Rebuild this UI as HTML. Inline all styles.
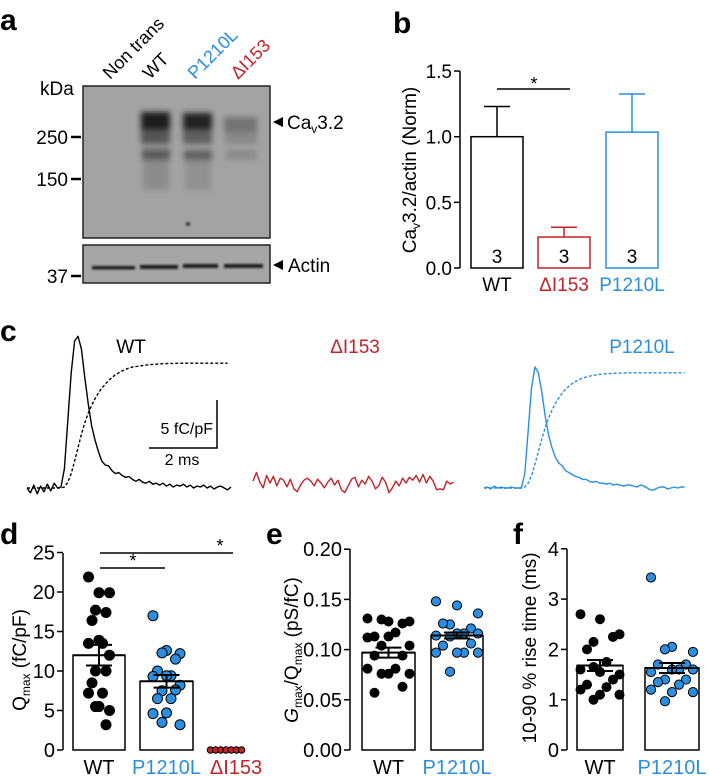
<!DOCTYPE html>
<html><head><meta charset="utf-8"><style>
html,body{margin:0;padding:0;background:#fff}
svg{display:block;font-family:"Liberation Sans",Arial,sans-serif}
</style></head><body>
<svg id="fig" width="709" height="776" viewBox="0 0 709 776">
<defs>
<filter id="b3" x="-50%" y="-50%" width="200%" height="200%"><feGaussianBlur stdDeviation="3"/></filter>
<filter id="b1" x="-50%" y="-50%" width="200%" height="200%"><feGaussianBlur stdDeviation="1"/></filter>
</defs>

<g>
<text x="0" y="30" font-size="30" font-weight="bold">a</text>
<g font-size="18">
<text transform="translate(110,80) rotate(-45)">Non trans</text>
<text transform="translate(150,80) rotate(-45)">WT</text>
<text transform="translate(195,80) rotate(-45)" fill="#2b8ee0">P1210L</text>
<text transform="translate(238,80) rotate(-45)" fill="#c0232a">ΔI153</text>
</g>
<text x="40" y="95" font-size="19">kDa</text>
<g>
<rect x="83" y="86" width="187" height="152" fill="#a3a3a3" stroke="#222" stroke-width="1.5"/>
<g filter="url(#b3)">
<rect x="141" y="112" width="29" height="20" fill="#1a1a1a"/>
<rect x="141" y="130" width="29" height="14" fill="#555"/>
<rect x="142" y="149" width="28" height="11" fill="#5a5a5a"/>
<rect x="143" y="160" width="26" height="30" fill="#8c8c8c"/>
<rect x="183" y="113" width="29" height="19" fill="#222"/>
<rect x="183" y="130" width="29" height="14" fill="#5e5e5e"/>
<rect x="184" y="150" width="28" height="10" fill="#616161"/>
<rect x="185" y="160" width="26" height="30" fill="#909090"/>
<rect x="224" y="117" width="33" height="15" fill="#737373"/>
<rect x="225" y="132" width="32" height="12" fill="#888"/>
<rect x="226" y="150" width="31" height="10" fill="#8a8a8a"/>
</g>
<circle cx="188" cy="224" r="2" fill="#333" filter="url(#b1)"/>
</g>
<g>
<rect x="83" y="245" width="187" height="38" fill="#a6a6a6" stroke="#222" stroke-width="1.5"/>
<g filter="url(#b1)" fill="#1c1c1c">
<rect x="92" y="266" width="43" height="3.5"/>
<rect x="140" y="265" width="38" height="4"/>
<rect x="183" y="264" width="35" height="4"/>
<rect x="224" y="264" width="39" height="4"/>
</g>
</g>
<g stroke="#000" stroke-width="2.5">
<line x1="71" y1="137" x2="81" y2="137"/><line x1="71" y1="179" x2="81" y2="179"/><line x1="71" y1="276" x2="81" y2="276"/>
</g>
<g font-size="19" text-anchor="end">
<text x="68" y="144">250</text>
<text x="68" y="186">150</text>
<text x="68" y="283">37</text>
</g>
<polygon points="273,122 283,117 283,127" fill="#000"/>
<text x="287" y="129" font-size="19">Ca<tspan font-size="12" dy="4">v</tspan><tspan dy="-4">3.2</tspan></text>
<polygon points="273,265 283,260 283,270" fill="#000"/>
<text x="288" y="272" font-size="19">Actin</text>
</g>

<g id="pb">
<text x="393" y="33" font-size="30" font-weight="bold">b</text>
<text transform="translate(416,170) rotate(-90)" text-anchor="middle" font-size="19">Ca<tspan font-size="12" dy="4">v</tspan><tspan dy="-4">3.2/actin (Norm)</tspan></text>
</g>

<g id="pc">
<text x="0" y="341" font-size="30" font-weight="bold">c</text>
<text x="131" y="353" font-size="19" text-anchor="middle">WT</text>
<text x="355" y="353" font-size="19" text-anchor="middle" fill="#c0232a">ΔI153</text>
<text x="642" y="353" font-size="19" text-anchor="middle" fill="#2b8ee0">P1210L</text>
<g>
<polyline points="149,448 217,448 217,400" fill="none" stroke="#000" stroke-width="1.5"/>
<text x="213" y="434" font-size="16" text-anchor="end">5 fC/pF</text>
<text x="182" y="465" font-size="16" text-anchor="middle">2 ms</text>
</g>
</g>

<g id="pd">
<text x="0" y="544" font-size="30" font-weight="bold">d</text>
<text transform="translate(26,660) rotate(-90)" text-anchor="middle" font-size="19">Q<tspan font-size="12" dy="4">max</tspan><tspan dy="-4"> (fC/pF)</tspan></text>
</g>
<g id="pe">
<text x="266" y="544" font-size="30" font-weight="bold">e</text>
<text transform="translate(298,650) rotate(-90)" text-anchor="middle" font-size="19"><tspan font-style="italic">G</tspan><tspan font-size="12" dy="4">max</tspan><tspan dy="-4">/Q</tspan><tspan font-size="12" dy="4">max</tspan><tspan dy="-4"> (pS/fC)</tspan></text>
</g>
<g id="pf">
<text x="513" y="544" font-size="30" font-weight="bold">f</text>
<text transform="translate(536,648) rotate(-90)" text-anchor="middle" font-size="19">10-90 % rise time (ms)</text>
</g>
</svg>
<script>
const bCats = ["WT","ΔI153","P1210L"];
const bMeans = [1.0, 0.236, 1.035];
const bErr = [1.23, 0.31, 1.325];
const bN = ["3","3","3"];
const bTicks = ["0.0","0.5","1.0","1.5"];
const bTickVals = [0,0.5,1.0,1.5];
const wtCurrent = [0,-0.5,0.3,-0.6,0.2,-0.4,0.4,-0.3,0.5,0,0.1,2,7,12,15.3,15.8,14.5,11.5,8.8,6.5,5.0,3.8,2.8,2.4,2.3,1.8,1.5,1.6,1.3,1.1,1.2,0.9,0.7,0.9,0.6,0.5,0.7,0.4,0.5,0.3,0.5,0.2,0.4,0.1,0.3,0.2,0.4,0.1,0.3,0,0.2,0.1,0.3,0,0.2,-0.1,0.1,0.2,0,-0.2,0.1];
const wtCharge = [0,0,0,0,0,0,0,0,0,0,0,0.1,0.6,1.5,2.8,4.2,5.6,6.8,7.8,8.6,9.3,9.9,10.4,10.8,11.2,11.5,11.8,12.0,12.2,12.35,12.5,12.6,12.65,12.7,12.75,12.8,12.85,12.88,12.9,12.92,12.95,12.96,12.97,12.98,12.99,13,13,13,13,13,13,13,13,13,13,13,13,13,13,13];
const diCurrent = [0.3,1.2,0.2,-0.4,0.9,0.1,0.8,-0.2,0.6,0.4,-0.3,0.5,-0.5,-0.8,-0.1,0.4,0.6,0.3,-0.2,0.5,0.1,-0.4,0.2,0.6,-0.1,0.4,-0.6,-0.9,-0.2,0.5,0.7,-0.3,0.4,0,0.8,0.3,-0.5,-0.2,0.7,0.2,-0.9,-0.4,0.3,-0.2,0.6,0.1,0.7,0.4,0.9,0.2,1.0,0.1,0.8,0.3,-0.6,-0.5,-0.6,0.3,0,0.2];
const pCurrent = [0,0.1,-0.1,0.2,0,0.1,0,0,0.1,0,0,0,1.5,6,10.5,12.6,12.0,10,7.5,5.5,4.2,3.2,2.6,2.3,1.8,1.6,1.4,1.2,1.1,0.9,0.9,0.7,0.6,0.7,0.5,0.5,0.4,0.5,0.3,0.4,0.3,0.2,0.3,0.3,0.2,0.1,0.3,0.2,0,-0.2,-0.2,0,0.1,0.1,-0.1,0,0.1,0,0.1,0.1];
const pCharge = [0,0,0,0,0,0,0,0,0,0,0,0,0.1,0.5,1.3,2.5,3.8,5.1,6.3,7.3,8.1,8.8,9.4,9.9,10.3,10.6,10.9,11.1,11.3,11.45,11.55,11.65,11.72,11.78,11.83,11.87,11.9,11.92,11.94,11.96,11.97,11.98,11.99,12,12,12,12,12,12,12,12,12,12,12,12,12,12,12,12,12];
const dCats = ["WT","P1210L","ΔI153"];
const dMeans = [12.0, 8.7, 0];
const dSem = [1.3, 0.8, 0];
const dWT = [21.9,19.9,19.9,17.7,17.4,16.4,13.5,13.5,13.9,12.0,10.0,10.0,8.5,7.2,7.2,5.5,5.0,5.5,3.2];
const dP = [17.0,12.6,12.2,12.3,11.5,10.0,9.4,9.3,9.4,8.2,7.5,7.6,6.5,6.5,4.6,4.7,3.2,3.5];
const dDI = [0,0,0,0,0,0,0];
const dTicks = ["0","5","10","15","20","25"];
const dTickVals = [0,5,10,15,20,25];
const eMeans = [0.097, 0.114];
const eSem = [0.005, 0.003];
const eWT = [0.131,0.128,0.128,0.130,0.126,0.113,0.117,0.112,0.113,0.104,0.104,0.094,0.094,0.081,0.081,0.076,0.076,0.076,0.063,0.057];
const eP = [0.148,0.144,0.136,0.125,0.121,0.126,0.116,0.114,0.116,0.116,0.113,0.106,0.104,0.097,0.097,0.097,0.097,0.078];
const eTicks = ["0.00","0.05","0.10","0.15","0.20"];
const eTickVals = [0,0.05,0.10,0.15,0.20];
const fMeans = [1.68, 1.63];
const fSem = [0.11, 0.1];
const fWT = [2.7,2.6,2.3,2.15,2.25,2.0,1.75,1.6,1.55,1.5,1.65,1.4,1.3,1.25,1.2,1.1,1.1,1.0];
const fP = [3.43,2.05,1.95,2.0,1.7,1.7,1.6,1.55,1.6,1.6,1.4,1.4,1.35,1.3,1.2,1.15,1.15,0.97];
const fTicks = ["0","1","2","3","4"];
const fTickVals = [0,1,2,3,4];
const xCats2 = ["WT","P1210L"];

const NS="http://www.w3.org/2000/svg";
function mk(parent, tag, attrs, txt){const e=document.createElementNS(NS,tag);for(const k in attrs)e.setAttribute(k,attrs[k]);if(txt!==undefined)e.textContent=txt;parent.appendChild(e);return e;}
const BLUE="#2b8ee0", RED="#c0232a";

function yAxis(g, x, scale, vals, labels, top, fs){
  const ax=mk(g,'line',{x1:x,y1:top,x2:x,y2:scale(0),stroke:'#000','stroke-width':1.5});
  
  
  vals.forEach((v,i)=>{
    const y=scale(v);
    const t=mk(g,'line',{x1:x-6,y1:y,x2:x,y2:y,stroke:'#000','stroke-width':1.5});
    
    
    const l=mk(g,'text',{x:x-8,y:y+7,'font-size':fs,'text-anchor':'end'},labels[i]);
    
    
  });
}

(function(){
  const g=document.getElementById('pb');
  const y=v=>268-v*131.3;
  yAxis(g,460,y,bTickVals,bTicks,71,19);
  const xs=[471,538,606], w=52, cols=['#000',RED,BLUE];
  bCats.forEach((c,i)=>{
    const cx=xs[i]+w/2;
    const r=mk(g,'rect',{x:xs[i],y:y(bMeans[i]),width:w,height:y(0)-y(bMeans[i]),fill:'#fff',stroke:cols[i],'stroke-width':1.5});
    
    
    const e=mk(g,'path',{d:`M${cx},${y(bMeans[i])}V${y(bErr[i])}M${cx-13},${y(bErr[i])}H${cx+13}`,stroke:cols[i],'stroke-width':1.5,fill:'none'});
    
    
    const n=mk(g,'text',{x:cx,y:263,'font-size':19,'text-anchor':'middle'},bN[i]);
    
    
    const l=mk(g,'text',{x:cx,y:291,'font-size':19,'text-anchor':'middle',fill:cols[i]},c);
    
    
  });
  const s=mk(g,'line',{x1:497,y1:89,x2:570,y2:89,stroke:'#000','stroke-width':1.5});
  
  
  const st=mk(g,'text',{x:534,y:90,'font-size':18,'text-anchor':'middle'},'*');
  
  
})();

(function(){
  const g=document.getElementById('pc');
  const pxMs=34, pxU=9.6;
  function trace(arr,x0,y0,col,dash,name){
    const pts=arr.map((v,i)=>(x0+i*0.1*pxMs).toFixed(1)+','+(y0-v*pxU).toFixed(1)).join(' ');
    const p=mk(g,'polyline',{points:pts,fill:'none',stroke:col,'stroke-width':1.4,'stroke-dasharray':dash?'3,2':'none','stroke-linejoin':'round'});
    
    
  }
  trace(wtCurrent,27,488,'#000',false,'wt-current-trace');
  trace(wtCharge,27,488,'#000',true,'wt-charge-trace');
  trace(diCurrent,253,484,RED,false,'di153-current-trace');
  trace(pCurrent,484,488,BLUE,false,'p1210l-current-trace');
  trace(pCharge,484,488,BLUE,true,'p1210l-charge-trace');
})();

function dotPanel(id, axX, y, tickVals, ticks, bars, top){
  const g=document.getElementById(id);
  yAxis(g,axX,y,tickVals,ticks,top,20);
  bars.forEach(b=>{
    const cx=b.x+b.w/2;
    if(b.w>0){
      const r=mk(g,'rect',{x:b.x,y:y(b.mean),width:b.w,height:y(0)-y(b.mean),fill:'#fff',stroke:'#000','stroke-width':1.5});
      
      
    }
    b.pts.forEach((v,i)=>{
      const off=b.spread?(((i*3)%7)-3)*b.spread:(i-(b.pts.length-1)/2)*5.2;
      const c=mk(g,'circle',{cx:cx+off,cy:y(v),r:b.r,fill:b.col,stroke:'#000','stroke-width':b.col==='#000'?0:1});
      
      
    });
    if(b.sem>0){
      const e=mk(g,'path',{d:`M${cx},${y(b.mean-b.sem)}V${y(b.mean+b.sem)}M${cx-13},${y(b.mean-b.sem)}H${cx+13}M${cx-13},${y(b.mean+b.sem)}H${cx+13}M${b.x},${y(b.mean)}H${b.x+b.w}`,stroke:'#000','stroke-width':2,fill:'none'});
      
      
    }
    const l=mk(g,'text',{x:b.lx||cx,y:774,'font-size':20,'text-anchor':'middle',fill:b.lc},b.name);
    
    
  });
  return g;
}
const gd=dotPanel('pd',63,v=>750-v*7.9,dTickVals,dTicks,[
  {name:dCats[0],x:73,w:52,mean:dMeans[0],sem:dSem[0],pts:dWT,col:'#000',r:5.5,spread:3.5,lc:'#000'},
  {name:dCats[1],x:140,w:53,mean:dMeans[1],sem:dSem[1],pts:dP,col:BLUE,r:5,spread:4.5,lc:BLUE},
  {name:dCats[2],x:226,w:0,mean:dMeans[2],sem:dSem[2],pts:dDI,col:RED,r:3.2,spread:0,lc:RED,lx:236}
],553);
[[100,165,568,133],[100,233,553,220]].forEach(s=>{
  const l=mk(gd,'line',{x1:s[0],y1:s[2],x2:s[1],y2:s[2],stroke:'#000','stroke-width':1.5});
  
  
  const t=mk(gd,'text',{x:s[3],y:s[2]-1,'font-size':18,'text-anchor':'middle'},'*');
  
  
});
dotPanel('pe',350,v=>750-v*1004,eTickVals,eTicks,[
  {name:xCats2[0],x:362,w:53,mean:eMeans[0],sem:eSem[0],pts:eWT,col:'#000',r:5,spread:7,lc:'#000'},
  {name:xCats2[1],x:431,w:52,mean:eMeans[1],sem:eSem[1],pts:eP,col:BLUE,r:4.6,spread:7,lc:BLUE}
],549);
dotPanel('pf',567,v=>750-v*50.3,fTickVals,fTicks,[
  {name:xCats2[0],x:577,w:46,mean:fMeans[0],sem:fSem[0],pts:fWT,col:'#000',r:5,spread:6.5,lc:'#000'},
  {name:xCats2[1],x:645,w:54,mean:fMeans[1],sem:fSem[1],pts:fP,col:BLUE,r:4.6,spread:7,lc:BLUE}
],549);
</script>
</body></html>
